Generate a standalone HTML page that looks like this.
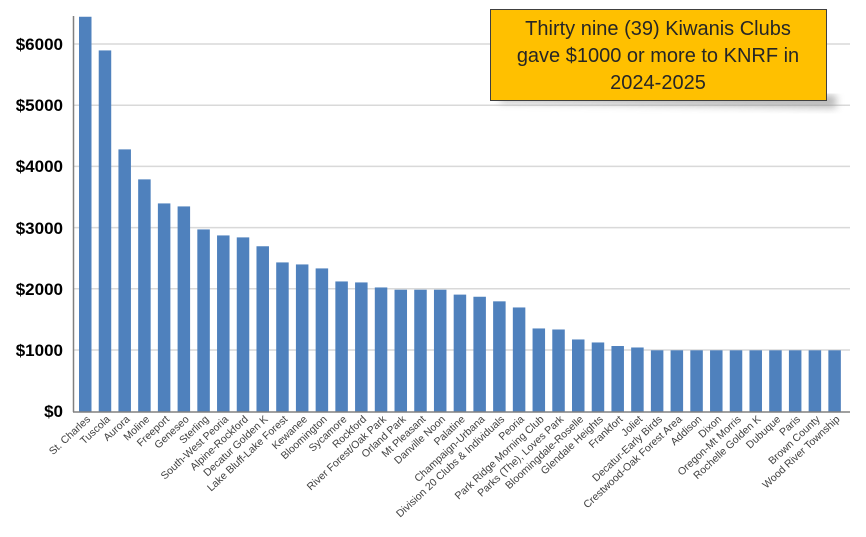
<!DOCTYPE html>
<html><head><meta charset="utf-8"><style>body{margin:0;background:#fff}</style></head><body>
<svg width="866" height="532" xmlns="http://www.w3.org/2000/svg" font-family="Liberation Sans, Arial, sans-serif">
<defs><filter id="sh" x="-10%" y="-10%" width="130%" height="150%"><feGaussianBlur stdDeviation="4"/></filter></defs>
<g stroke="#d9d9d9" stroke-width="1.5">
<line x1="73" y1="44" x2="850" y2="44"/><line x1="73" y1="105.2" x2="850" y2="105.2"/><line x1="73" y1="166.4" x2="850" y2="166.4"/><line x1="73" y1="227.6" x2="850" y2="227.6"/><line x1="73" y1="288.8" x2="850" y2="288.8"/><line x1="73" y1="350" x2="850" y2="350"/>
</g>
<g font-size="17" font-weight="bold" text-anchor="end" fill="#000">
<text x="63" y="50">$6000</text><text x="63" y="111">$5000</text><text x="63" y="172">$4000</text><text x="63" y="234">$3000</text><text x="63" y="295">$2000</text><text x="63" y="356">$1000</text><text x="63" y="417">$0</text>
</g>
<g id="bars" fill="#4f81bd"></g>
<g id="labels" font-size="10.5" fill="#404040" text-anchor="end"></g>
<line x1="73.5" y1="16" x2="73.5" y2="412" stroke="#808080" stroke-width="1.5"/>
<line x1="73" y1="412" x2="850" y2="412" stroke="#808080" stroke-width="1.5"/>
<path d="M500 95 L836 95 L836 108 L500 102 Z" fill="#888" filter="url(#sh)" opacity="0.6"/>
<rect x="490.5" y="9.5" width="336" height="91" fill="#ffc000" stroke="#404040" stroke-width="1"/>
<g font-size="20" fill="#262626" text-anchor="middle">
<text x="658" y="35">Thirty nine (39) Kiwanis Clubs</text>
<text x="658" y="62">gave $1000 or more to KNRF in</text>
<text x="658" y="89">2024-2025</text>
</g>
</svg>
<script>
var d=[["St. Charles",6450],["Tuscola",5900],["Aurora",4283],["Moline",3793],["Freeport",3400],["Geneseo",3351],["Sterling",2975],["South-West Peoria",2877],["Alpine-Rockford",2845],["Decatur Golden K",2700],["Lake Bluff-Lake Forest",2436],["Kewanee",2403],["Bloomington",2338],["Sycamore",2125],["Rockford",2109],["River Forest/Oak Park",2027],["Orland Park",1990],["Mt Pleasant",1990],["Danville Noon",1990],["Palatine",1910],["Champaign-Urbana",1875],["Division 20 Clubs & Individuals",1800],["Peoria",1700],["Park Ridge Morning Club",1357],["Parks (The), Loves Park",1340],["Bloomingdale-Roselle",1177],["Glendale Heights",1128],["Frankfort",1070],["Joliet",1046],["Decatur-Early Birds",1000],["Crestwood-Oak Forest Area",1000],["Addison",1000],["Dixon",1000],["Oregon-Mt Morris",1000],["Rochelle Golden K",1000],["Dubuque",1000],["Paris",1000],["Brown County",1000],["Wood River Township",1000]];
var ns="http://www.w3.org/2000/svg",b=document.getElementById("bars"),l=document.getElementById("labels");
d.forEach(function(e,i){var x=79+i*19.72,h=e[1]*0.0612;
var r=document.createElementNS(ns,"rect");r.setAttribute("x",x);r.setAttribute("y",411.5-h);r.setAttribute("width",12.5);r.setAttribute("height",h);b.appendChild(r);
var t=document.createElementNS(ns,"text");var cx=x+12,cy=420;t.setAttribute("x",cx);t.setAttribute("y",cy);t.setAttribute("transform","rotate(-43 "+cx+" "+cy+")");t.textContent=e[0];l.appendChild(t);});
</script>
</body></html>
